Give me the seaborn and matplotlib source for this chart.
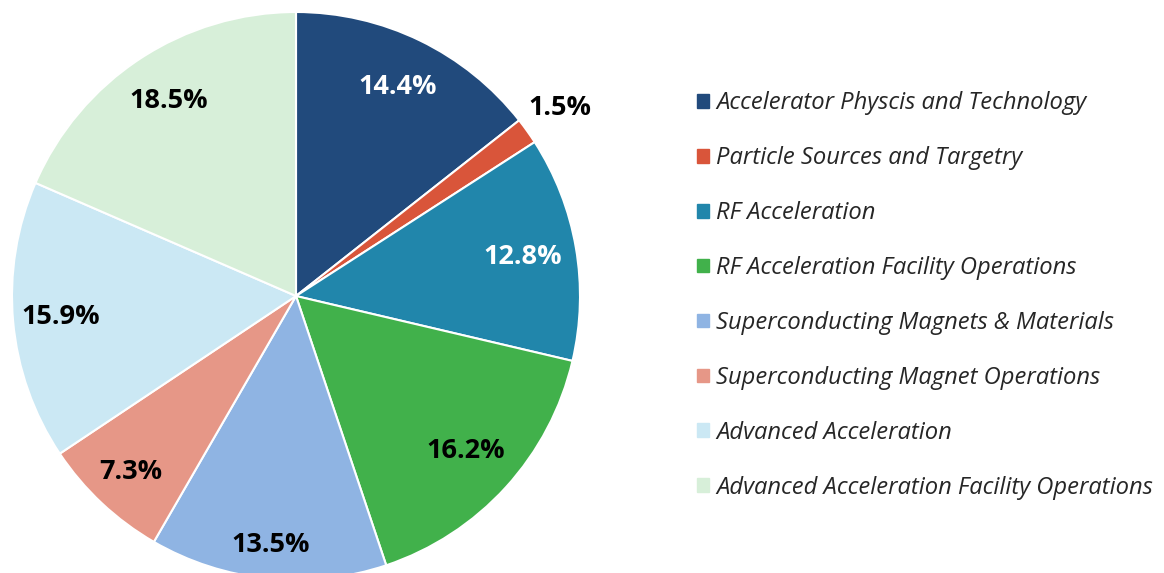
import matplotlib.pyplot as plt
import matplotlib.patches as mpatches
import numpy as np
import seaborn as sns

categories = ['Accelerator Physcis and Technology', 'Particle Sources and Targetry',
              'RF Acceleration', 'RF Acceleration Facility Operations',
              'Superconducting Magnets & Materials', 'Superconducting Magnet Operations',
              'Advanced Acceleration', 'Advanced Acceleration Facility Operations']
shares = [14.4, 1.5, 12.8, 16.2, 13.5, 7.3, 15.9, 18.5]
colors = ['#214a7c', '#d9553a', '#2186ab', '#41b14b', '#8fb4e3', '#e69787', '#cbe8f4', '#d7efd9']
text_colors = ['white', 'black', 'white', 'black', 'black', 'black', 'black', 'black']
label_radius = [0.82, 1.14, 0.81, 0.81, 0.88, 0.85, 0.83, 0.82]

sns.set_theme(style='white')
plt.rcParams['font.family'] = ['Open Sans', 'DejaVu Sans']

fig = plt.figure(figsize=(11.64, 5.73), dpi=100)
W, H = 1164, 573
cx, cy, r = 296, 277, 284
ax = fig.add_axes([(cx - r) / W, (cy - r) / H, 2 * r / W, 2 * r / H])

wedges, _ = ax.pie(shares, colors=colors, startangle=90, counterclock=False, radius=1,
                   wedgeprops=dict(edgecolor='white', linewidth=1.5))
ax.set_xlim(-1, 1)
ax.set_ylim(-1, 1)
ax.set_aspect('equal')
ax.axis('off')

for w, v, tc, d in zip(wedges, shares, text_colors, label_radius):
    ang = np.deg2rad((w.theta1 + w.theta2) / 2)
    ax.text(d * np.cos(ang), d * np.sin(ang), f'{v:.1f}%', ha='center', va='center',
            fontsize=19.5, fontweight='bold', color=tc, clip_on=False)

handles = [mpatches.Patch(color=c, label=l) for c, l in zip(colors, categories)]
fig.legend(handles=handles, loc='center left', bbox_to_anchor=(697 / W, 1 - 295.5 / H),
           frameon=False, borderpad=0, borderaxespad=0,
           prop={'style': 'italic', 'size': 17.1}, handlelength=0.5, handleheight=0.5,
           handletextpad=0.3, labelspacing=1.3)

fig.savefig('out.png', dpi=100)
